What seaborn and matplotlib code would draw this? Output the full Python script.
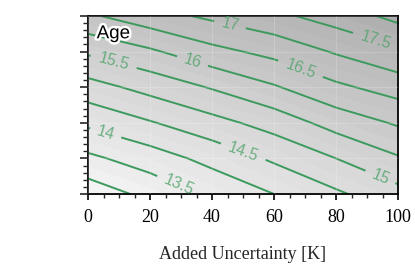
import numpy as np
import matplotlib
matplotlib.use("Agg")
import matplotlib.pyplot as plt
import matplotlib.patheffects as pe
from matplotlib.colors import LinearSegmentedColormap
import seaborn as sns

# ---- data ----
added_uncertainty = [0, 20, 40, 60, 80, 100]   # x grid [K]
y_grid = [0, 1, 2, 3, 4, 5]                     # y grid (unlabelled axis)
age_y0 = [12.70, 13.14, 13.60, 14.00, 14.42, 14.83]
age_y1 = [13.39, 13.75, 14.16, 14.58, 15.00, 15.45]
age_y2 = [14.10, 14.46, 14.83, 15.20, 15.70, 16.06]
age_y3 = [14.80, 15.17, 15.54, 15.95, 16.40, 16.72]
age_y4 = [15.58, 15.92, 16.35, 16.65, 17.05, 17.40]
age_y5 = [16.42, 16.80, 17.10, 17.38, 17.72, 18.15]
contour_levels = [13.0, 13.5, 14.0, 14.5, 15.0, 15.5, 16.0, 16.5, 17.0, 17.5, 18.0]
xtick_labels = ["0", "20", "40", "60", "80", "100"]

Z = np.array([age_y0, age_y1, age_y2, age_y3, age_y4, age_y5])
X, Y = np.meshgrid(added_uncertainty, y_grid)

sns.set_theme(style="ticks")
plt.rcParams['font.family'] = ['DejaVu Sans']

fig = plt.figure(figsize=(4.15, 2.73), dpi=100)
ax = fig.add_axes([88/415, (273-194)/273, 310/415, 178/273])

fill_levels = np.arange(12.5, 18.6, 0.25)
cmap = LinearSegmentedColormap.from_list("g", ["#f9f9f9", "#a8a8a8"])
ax.contourf(X, Y, Z, levels=fill_levels, cmap=cmap, zorder=0)

ax.set_xlim(0, 100)
ax.set_ylim(0, 5)
ax.grid(True, color="white", alpha=0.18, linewidth=0.8, zorder=1)
ax.set_axisbelow(False)

green = "#3d9a5d"
cs = ax.contour(X, Y, Z, levels=contour_levels, colors=green, linewidths=1.4, zorder=2)
label_pos = [(29.7, 0.31), (5.8, 1.74), (50.3, 1.24), (94.2, 0.45), (8.0, 3.62),
             (34.0, 3.82), (68.4, 3.48), (45.8, 4.75), (92.6, 4.27)]
labels = ax.clabel(cs, manual=label_pos, inline=True, inline_spacing=6,
                   fontsize=11.5, fmt=lambda v: f"{v:g}", colors="#4fa36b")
for t in labels:
    t.set_alpha(0.8)
    t.set_family("Liberation Sans")

ax.text(0.028, 0.9, "Age", transform=ax.transAxes, fontsize=13.5, color="black",
        family="Liberation Sans", va="center", ha="left", zorder=5,
        path_effects=[pe.withStroke(linewidth=3.5, foreground="white")])

ax.set_xticks([0, 20, 40, 60, 80, 100])
ax.set_xticklabels(xtick_labels, family="Liberation Serif", fontsize=13)
ax.set_xticks(np.arange(0, 101, 5), minor=True)
ax.set_yticks([0, 1, 2, 3, 4, 5])
ax.set_yticks(np.arange(0, 5.01, 0.2), minor=True)
ax.set_yticklabels([])
ax.tick_params(axis="x", which="major", length=4.5, width=1.2, direction="out", pad=6, colors="black")
ax.tick_params(axis="x", which="minor", length=3, width=1.0, direction="out")
ax.tick_params(axis="y", which="major", length=6, width=1.2, direction="out")
ax.tick_params(axis="y", which="minor", length=3.5, width=1.0, direction="out")
ax.set_xlabel("Added Uncertainty [K]", family="Liberation Serif", fontsize=13, labelpad=15)
for s in ax.spines.values():
    s.set_color("black")
    s.set_linewidth(1.3)

fig.savefig("out.png", dpi=100)
